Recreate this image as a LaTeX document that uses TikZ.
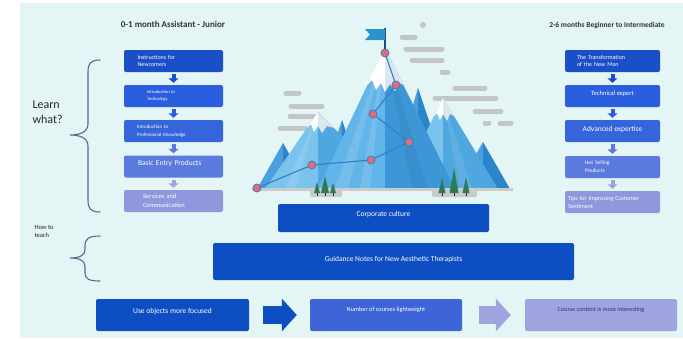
\documentclass[tikz,border=0pt]{standalone}
\usepackage{fontspec}
\setmainfont{Carlito}
\usetikzlibrary{arrows.meta}

\definecolor{paper}{HTML}{E4F5F6}
\definecolor{navy}{HTML}{0D4EC2}
\definecolor{blueA}{HTML}{1A4FC8}
\definecolor{blueB}{HTML}{2B5EDF}
\definecolor{blueC}{HTML}{3565DA}
\definecolor{blueD}{HTML}{5B7ADD}
\definecolor{lav}{HTML}{8F98DC}
\definecolor{lavL}{HTML}{9EA5DE}
\definecolor{midblue}{HTML}{3E65D8}
\definecolor{bracecol}{HTML}{4F6E8C}
\definecolor{cloudgray}{HTML}{C3C5C7}
\definecolor{groundgray}{HTML}{C9CBCC}
\definecolor{pinegreen}{HTML}{2F7A57}
\definecolor{dotred}{HTML}{E8687F}
\definecolor{trailblue}{HTML}{2F80C4}
\definecolor{snowshade}{HTML}{DCE6EE}
% mountain faces
\definecolor{backsun}{HTML}{4A9FDC}
\definecolor{backshade}{HTML}{2C84CB}
\definecolor{frontsun}{HTML}{7AC3EC}
\definecolor{frontshade}{HTML}{4FA7E0}
\definecolor{mainsun}{HTML}{62B5E8}
\definecolor{mainshade}{HTML}{3D97D7}

\newcommand\sz[2]{\fontsize{#1}{#2}\selectfont}
% mountain: left x, peak x, peak y, right x, sunny side, shady side
\newcommand\mtn[6]{%
  \fill[#5] (#1,189) -- (#2,#3) -- (#2,189) -- cycle;
  \fill[#6] (#2,#3) -- (#4,189) -- (#2,189) -- cycle;}
% tree: x, top y, half width
\newcommand\pine[3]{%
  \draw[black!60!pinegreen, line width=0.8pt] (#1,#2+4) -- (#1,196);
  \fill[pinegreen] (#1,#2) -- (#1-#3,193) -- (#1+#3,193) -- cycle;}

\begin{document}
\begin{tikzpicture}[x=1pt,y=-1pt,
  box/.style={rectangle, rounded corners=2pt, inner sep=0pt, text=white, align=left},
  colbox/.style={box, minimum width=99pt, minimum height=22pt},
  rcolbox/.style={box, minimum width=95pt, minimum height=22pt},
  widebox/.style={box, fill=navy, align=center},
  rowbox/.style={box, minimum width=152pt, minimum height=32pt, align=center},
  downarr/.style={line width=4pt, -{Triangle[length=4.5pt,width=10pt]}, shorten <=2pt, shorten >=2pt},
  bigarr/.style={line width=18pt, -{Triangle[length=15pt,width=32pt]}},
  brace/.style={draw=bracecol, line width=1.1pt, line cap=round},
  cloud/.style={draw=cloudgray, line width=5pt, line cap=round},
  trail/.style={draw=trailblue, line width=1.1pt},
  waypoint/.style={circle, fill=dotred, draw=trailblue!70!gray, line width=0.9pt, inner sep=0pt, minimum size=8pt}
]
\useasboundingbox (0,0) rectangle (683,338);
\fill[white] (0,0) rectangle (683,338);
\fill[paper] (20,3) rectangle (683,338);

% headings
\node[font=\bfseries\sz{9}{11}, text=black!80] (junior) at (173,24) {0-1 month Assistant - Junior};
\node[font=\bfseries\sz{7.5}{9}, text=black!80] (senior) at (607,26) {2-6 months Beginner to Intermediate};
\node[anchor=west, align=left, font=\sz{12}{15}, text=black!85] (learn) at (29,112) {Learn\\what?};
\node[anchor=west, align=left, font=\sz{6.5}{8}, text=black!85] (teach) at (31,231) {How to\\teach};

% braces
\draw[brace] (100,60) .. controls (91,60) and (88,63) .. (88,72) -- (88,124)
  .. controls (88,132) and (80,135) .. (70,135) .. controls (80,135) and (88,138) .. (88,146)
  -- (88,200) .. controls (88,209) and (91,212) .. (100,212);
\draw[brace] (100,236) .. controls (89,236) and (85,239) .. (85,245) -- (85,250)
  .. controls (85,256) and (78,258) .. (70,258) .. controls (78,258) and (85,260) .. (85,266)
  -- (85,273) .. controls (85,279) and (89,281) .. (100,281);

% left column
\node[colbox, fill=blueA, font=\sz{6}{7.5}, text width=72pt] (l1) at (173.5,61) {Instructions for\\Newcomers};
\node[colbox, fill=blueB, font=\sz{4.5}{7.5}, text width=53pt] (l2) at (173.5,96) {Introduction to\\Technology};
\node[colbox, fill=blueC, font=\sz{5}{7.5}, text width=73pt] (l3) at (173.5,131) {Introduction to\\Professional Knowledge};
\node[colbox, fill=blueD, font=\sz{7.5}{9}, text width=71pt, text depth=8pt] (l4) at (173.5,166.5) {Basic Entry Products};
\node[colbox, fill=lav, font=\sz{6.5}{9}, text width=61pt] (l5) at (173.5,201) {Services and\\Communication};
\draw[downarr, blueA] (l1) -- (l2);
\draw[downarr, blueB] (l2) -- (l3);
\draw[downarr, blueD] (l3) -- (l4);
\draw[downarr, lavL] (l4) -- (l5);

% right column
\node[rcolbox, fill=blueA, font=\sz{6}{7}, text width=71pt] (r1) at (612.5,61) {The Transformation\\of the New Man};
\node[rcolbox, fill=blueB, font=\sz{6.5}{8}, align=center, text depth=5pt] (r2) at (612.5,96) {Technical expert};
\node[rcolbox, fill=blueC, font=\sz{7.5}{9}, align=center, text depth=5pt] (r3) at (612.5,131) {Advanced expertise};
\node[rcolbox, fill=blueD, font=\sz{5.5}{8}, text width=55pt] (r4) at (612.5,167) {Hot Selling\\Products};
\node[rcolbox, fill=lav, font=\sz{6}{8}, text width=89pt] (r5) at (612.5,202) {Tips for Improving Customer\\Sentiment};
\draw[downarr, blueA] (r1) -- (r2);
\draw[downarr, blueB] (r2) -- (r3);
\draw[downarr, blueD] (r3) -- (r4);
\draw[downarr, lavL] (r4) -- (r5);

% clouds behind the peaks
\foreach \xa/\xb/\yy in {286/299/93, 291/322/106, 290/314/116, 280/319/128,
    402/415/37, 406/442/49, 412/442/60, 442/448/72, 455/485/88, 435/496/98,
    475/501/111, 485/489/123, 500/511/123}
  \draw[cloud] (\xa,\yy) -- (\xb,\yy);
\fill[cloudgray] (423,25) circle (3pt);

% mountains, back to front
\mtn{257}{283}{143}{309}{backsun}{backshade}
\mtn{456}{483}{142}{510}{backsun}{backshade}
\mtn{320}{342}{120}{366}{backsun}{backshade}
\mtn{388}{418}{88}{452}{backsun}{backshade}
\mtn{265}{318}{112}{395}{frontsun}{frontshade}
\mtn{398}{443}{98}{498}{frontsun}{frontshade}
\mtn{318}{385}{48}{455}{mainsun}{mainshade}
\fill[white, opacity=.12] (385,48) -- (335,189) -- (348,189) -- cycle;
\fill[white, opacity=.12] (385,48) -- (360,189) -- (370,189) -- cycle;
\fill[black, opacity=.05] (385,48) -- (412,189) -- (428,189) -- cycle;
\fill[white, opacity=.12] (318,112) -- (285,189) -- (296,189) -- cycle;
\fill[white, opacity=.10] (443,98) -- (460,189) -- (472,189) -- cycle;
% snow caps
\fill[white] (385,48) -- (367,85) -- (372,80) -- (376,90) -- (381,83) -- (385,92) -- cycle;
\fill[snowshade] (385,48) -- (385,92) -- (390,84) -- (395,91) -- (399,83) -- (403.5,85) -- cycle;
\fill[white] (318,112) -- (307,128) -- (311,124) -- (314,132) -- (318,126) -- cycle;
\fill[snowshade] (318,112) -- (318,126) -- (322,133) -- (327,126) -- (334,128) -- cycle;
\fill[white] (443,98) -- (434,116) -- (437,113) -- (440,120) -- (443,114) -- cycle;
\fill[snowshade] (443,98) -- (443,114) -- (447,121) -- (450,114) -- (454,116) -- cycle;

% ground and trees
\draw[groundgray, line width=3pt] (252,189) -- (513,189);
\fill[groundgray, rounded corners=2pt] (310,188) rectangle (342,197);
\fill[groundgray, rounded corners=2pt] (432,188) rectangle (477,197);
\pine{317}{182}{3}
\pine{325}{176}{4}
\pine{333}{183}{3}
\pine{442}{178}{3.5}
\pine{454}{168}{4.5}
\pine{466}{177}{3.5}

% climbing route and flag
\foreach \n/\xx/\yy in {0/257/188, 1/312/165, 2/371/160, 3/409/142, 4/373/114, 5/396/85, 6/385/53}
  \coordinate (w\n) at (\xx,\yy);
\draw[trail] (w0) -- (w1) -- (w2) -- (w3) -- (w4) -- (w5) -- (w6);
\draw[black!40!trailblue, line width=1.2pt] (w6) -- ++(0,-25);
\fill[trailblue!85!cyan] (385,29) -- (365,29) -- (370,34.5) -- (365,40) -- (385,40) -- cycle;
\foreach \n in {0,...,6}
  \node[waypoint] (d\n) at (w\n) {};

% middle boxes
\node[widebox, minimum width=211pt, minimum height=28pt, font=\sz{7.5}{9}, text depth=8pt] (culture) at (383.5,218) {Corporate culture};
\node[widebox, minimum width=361pt, minimum height=37pt, font=\sz{7.5}{9}, text depth=6pt] (guide) at (393.5,261.5) {Guidance Notes for New Aesthetic Therapists};

% bottom row
\node[rowbox, fill=navy, minimum width=153pt, font=\sz{7.5}{9}, text depth=9pt] (u1) at (172.5,315) {Use objects more focused};
\node[rowbox, fill=midblue, font=\sz{6.3}{7.5}, text depth=12pt] (u2) at (386,315) {Number of courses lightweight};
\node[rowbox, fill=lavL, text=blue!45!black!70!lav, font=\sz{6.2}{7.5}, text depth=12pt] (u3) at (601,315) {Course content is more interesting};
\draw[bigarr, navy, shorten <=14pt, shorten >=13pt] (u1) -- (u2);
\draw[bigarr, lavL, shorten <=17pt, shorten >=14pt] (u2) -- (u3);
\end{tikzpicture}
\end{document}
